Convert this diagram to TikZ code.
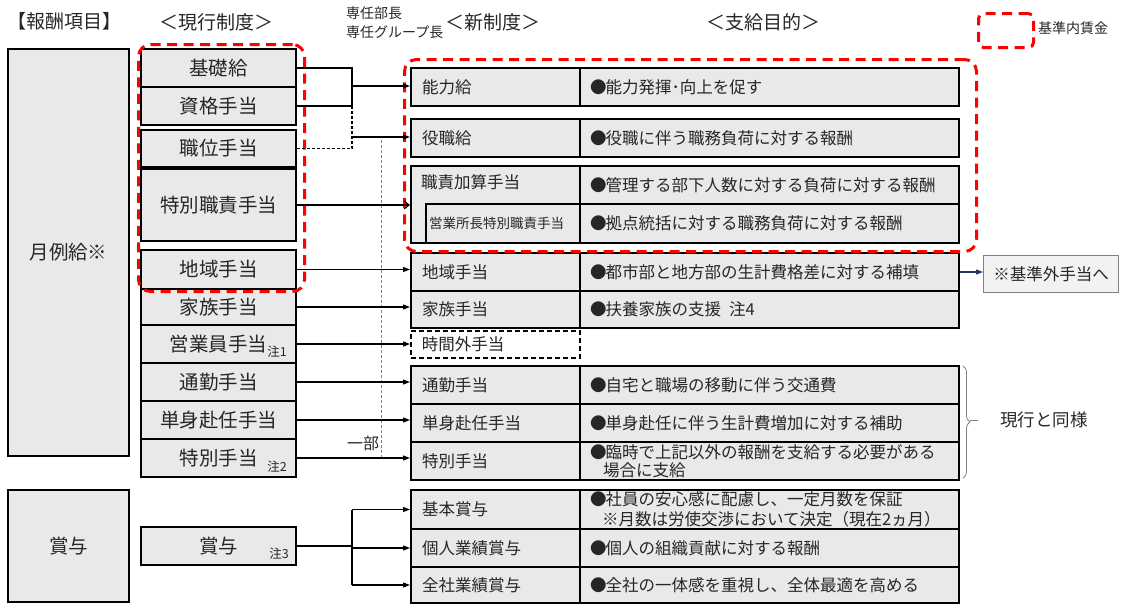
\documentclass[tikz,border=0pt]{standalone}
\usepackage{fontspec}
\setmainfont{Noto Sans CJK JP}
\usetikzlibrary{arrows.meta,decorations.pathreplacing,calc}
\definecolor{boxfill}{RGB}{233,233,233}
\definecolor{txt}{RGB}{38,38,38}
\definecolor{navyarr}{RGB}{31,56,100}
\definecolor{extfill}{RGB}{242,242,242}
\newcommand{\fLg}{\fontsize{19.5}{23}\selectfont}
\newcommand{\fHd}{\fontsize{19}{23}\selectfont}
\newcommand{\fMd}{\fontsize{16.5}{18.5}\selectfont}
\newcommand{\fSm}{\fontsize{14}{18.5}\selectfont}
\newcommand{\fNt}{\fontsize{12.5}{14}\selectfont}
\newcommand{\bul}{●\hspace{-1pt}}
\tikzset{
  cur/.style={draw=black, line width=2pt, fill=boxfill, text=txt, font=\fLg,
    minimum width=155, minimum height=38, anchor=north west, inner sep=0pt},
  bigbox/.style={cur, minimum width=121},
  ncell/.style={draw=black, line width=2pt, fill=boxfill, text=txt, font=\fMd,
    anchor=north west, inner ysep=0pt, inner xsep=11pt, text width=147pt,
    align=left, minimum height=38},
  pcell/.style={ncell, inner xsep=10pt, text width=359pt},
  hdr/.style={text=txt, font=\fHd, inner sep=0pt},
  note/.style={text=txt, font=\fNt, inner sep=0pt},
  plain/.style={text=txt, inner sep=0pt},
  reddash/.style={draw=red, line width=3pt, dash pattern=on 10pt off 6.5pt,
    rounded corners=12pt, anchor=north west, inner sep=0pt},
  conn/.style={draw=black, line width=1.1pt},
  arr/.style={conn, -{Triangle[length=7pt,width=5pt]}},
  barb/.style={conn, -{Straight Barb[length=5pt,width=8pt]}},
  graydash/.style={draw=gray, line width=1pt, dash pattern=on 3pt off 2pt},
}
\begin{document}
\begin{tikzpicture}[x=1pt,y=-1pt]
\useasboundingbox (0,0) rectangle (1130,606);
% headers
\node[hdr, anchor=west] (h1) at (7,21) {【報酬項目】};
\node[hdr] (h2) at (216,22) {＜現行制度＞};
\node[hdr] (h3) at (493,22) {＜新制度＞};
\node[hdr] (h4) at (763,22) {＜支給目的＞};
\node[plain, font=\fSm, anchor=north west, align=left] (senin) at (346,7) {専任部長\\専任グループ長};
% legend
\node[reddash, rounded corners=5pt, minimum width=55, minimum height=34] (legend) at (977,12) {};
\node[plain, font=\fSm, anchor=west] (legendT) at (1038,28) {基準内賃金};
% left items
\node[bigbox, minimum height=407] (getsurei) at (7,48) {月例給※};
\node[bigbox, minimum height=112] (shoyoL) at (7,489) {賞与};
% current system
\node[cur] (kiso) at (140,48) {基礎給};
\node[cur] (shikaku) at (140,86) {資格手当};
\node[cur, minimum height=37] (shokui) at (140,129) {職位手当};
\node[cur, minimum height=72] (tokushoku) at (140,168) {特別職責手当};
\node[cur, minimum height=39] (chiiki) at (140,249) {地域手当};
\node[cur, minimum height=36] (kazoku) at (140,288) {家族手当};
\node[cur] (eigyo) at (140,324) {営業員手当};
\node[cur] (tsukin) at (140,362) {通勤手当};
\node[cur] (tanshin) at (140,400) {単身赴任手当};
\node[cur] (tokubetsu) at (140,438) {特別手当\hspace{18pt}};
\node[cur] (shoyo) at (140,526) {賞与};
\node[note] (n1) at (277,352) {注1};
\node[note] (n2) at (277,467) {注2};
\node[note] (n3) at (279,554) {注3};
% new system
\node[ncell] (nouryoku) at (410,67) {能力給};
\node[pcell] (nouryokuP) at (579,67) {\bul 能力発揮･向上を促す};
\node[ncell] (yakushoku) at (410,118) {役職給};
\node[pcell] (yakushokuP) at (579,118) {\bul 役職に伴う職務負荷に対する報酬};
\node[ncell, minimum height=77] (shokuseki) at (410,165) {};
\node[plain, font=\fMd, anchor=west] (shokusekiT) at (421,182) {職責加算手当};
\node[ncell, font=\fontsize{13.5}{15}\selectfont, inner xsep=3pt, text width=148pt, minimum height=39] (eigyosho) at (425,203) {営業所長特別職責手当};
\node[pcell] (shokusekiP) at (579,165) {\bul 管理する部下人数に対する負荷に対する報酬};
\node[pcell, minimum height=39] (eigyoshoP) at (579,203) {\bul 拠点統括に対する職務負荷に対する報酬};
\node[ncell] (chiikiN) at (410,252) {地域手当};
\node[pcell] (chiikiP) at (579,252) {\bul 都市部と地方部の生計費格差に対する補填};
\node[ncell, minimum height=37] (kazokuN) at (410,290) {家族手当};
\node[pcell, minimum height=37] (kazokuP) at (579,290) {\bul 扶養家族の支援\hspace{8pt}注4};
\node[ncell, fill=white, dash pattern=on 5pt off 3pt, line width=1.6pt, minimum height=27] (jikangai) at (410,330) {時間外手当};
\node[ncell] (tsukinN) at (410,365) {通勤手当};
\node[pcell] (tsukinP) at (579,365) {\bul 自宅と職場の移動に伴う交通費};
\node[ncell] (tanshinN) at (410,403) {単身赴任手当};
\node[pcell] (tanshinP) at (579,403) {\bul 単身赴任に伴う生計費増加に対する補助};
\node[ncell] (tokubetsuN) at (410,441) {特別手当};
\node[pcell, font=\fontsize{16.5}{17.5}\selectfont] (tokubetsuP) at (579,441) {\bul 臨時で上記以外の報酬を支給する必要がある\\\hspace{13pt}場合に支給};
\node[ncell, minimum height=39] (kihonS) at (410,489) {基本賞与};
\node[pcell, minimum height=39, font=\fontsize{16.5}{20}\selectfont] (kihonP) at (579,489) {\bul 社員の安心感に配慮し、一定月数を保証\\\hspace{12pt}※月数は労使交渉において決定（現在2ヵ月）};
\node[ncell] (kojinS) at (410,528) {個人業績賞与};
\node[pcell] (kojinP) at (579,528) {\bul 個人の組織貢献に対する報酬};
\node[ncell, minimum height=36] (zenshaS) at (410,566) {全社業績賞与};
\node[pcell, minimum height=36] (zenshaP) at (579,566) {\bul 全社の一体感を重視し、全体最適を高める};
% outside-base box
\node[draw=gray, fill=extfill, line width=1pt, text=txt, font=\fMd, minimum width=135, minimum height=37, anchor=north west, inner sep=0pt] (ext) at (983,255) {※基準外手当へ};
\draw[navyarr, line width=1.1pt, -{Triangle[length=7pt,width=5pt]}] (chiikiP.east) -- (chiikiP.east -| ext.west);
% red groups
\node[reddash, minimum width=166, minimum height=247] (redL) at (137,43) {};
\node[reddash, minimum width=572, minimum height=192] (redR) at (403,58) {};
% connectors
\coordinate (jx) at (352,0);
\coordinate (a1) at (352,86);
\coordinate (a2) at (352,137);
\draw[conn] (kiso.east) -- (kiso.east -| jx) -- (shikaku.east -| jx) -- (shikaku.east);
\draw[arr] (a1) -- (a1 -| nouryoku.west);
\draw[conn, dash pattern=on 3pt off 2pt] (shikaku.east -| jx) -- (shokui.east -| jx) -- (shokui.east);
\draw[arr] (a2) -- (a2 -| yakushoku.west);
\coordinate (g1) at (381,140);
\coordinate (g2) at (381,457);
\draw[graydash] (g1) -- (g2);
\draw[barb] (tokushoku.east) -- (tokushoku.east -| shokuseki.west);
\draw[arr] (chiiki.east) -- (chiiki.east -| chiikiN.west);
\draw[arr] (kazoku.east) -- (kazoku.east -| kazokuN.west);
\draw[arr] (eigyo.east) -- (eigyo.east -| jikangai.west);
\draw[arr] (tsukin.east) -- (tsukin.east -| tsukinN.west);
\draw[arr] (tanshin.east) -- (tanshin.east -| tanshinN.west);
\draw[arr] (tokubetsu.east) -- (tokubetsu.east -| tokubetsuN.west);
\node[plain, font=\fontsize{16}{18}\selectfont] (ichibu) at (363,443) {一部};
\draw[conn] (shoyo.east) -- (shoyo.east -| jx);
\draw[conn] (kihonS.west -| jx) -- (zenshaS.west -| jx);
\draw[arr] (kihonS.west -| jx) -- (kihonS.west);
\draw[arr] (kojinS.west -| jx) -- (kojinS.west);
\draw[arr] (zenshaS.west -| jx) -- (zenshaS.west);
% brace
\coordinate (b1) at (963,366);
\coordinate (b2) at (963,478);
\coordinate (bt) at (978,420);
\draw[draw=gray, line width=0.8pt, decorate, decoration={brace, amplitude=7pt}] (b1) -- (b2);
\draw[draw=gray, line width=0.8pt] (bt -| 970,0) -- (bt);
\node[plain, font=\fontsize{17.5}{20}\selectfont, anchor=west] (douyou) at (1000,420) {現行と同様};
\end{tikzpicture}
\end{document}
